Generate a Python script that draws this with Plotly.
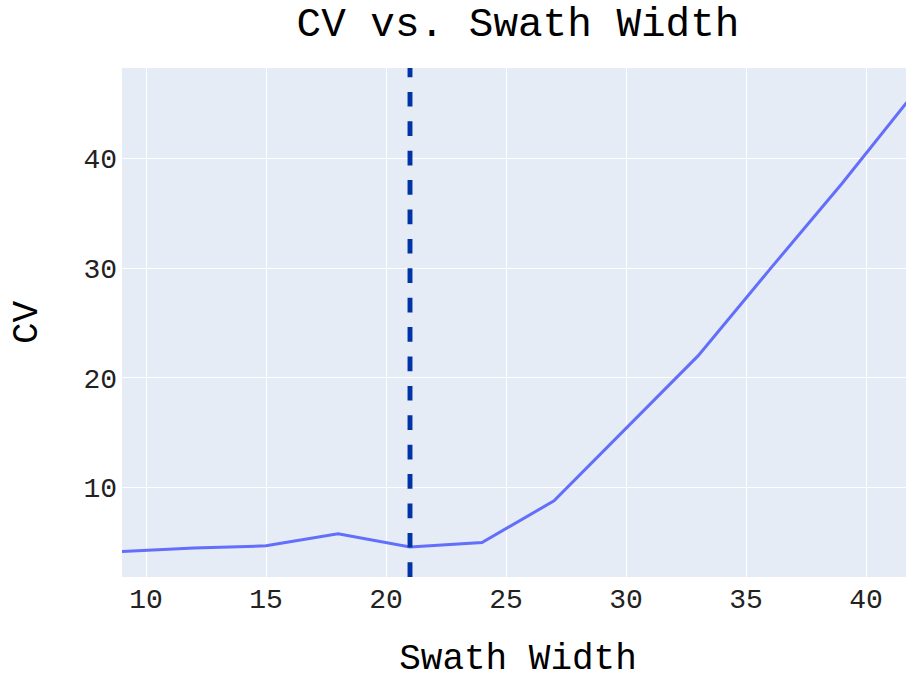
import plotly.graph_objects as go

swath_width = [9, 12, 15, 18, 21, 24, 27, 30, 33, 36, 39, 42]
cv_values = [4.18, 4.5, 4.7, 5.8, 4.6, 5.0, 8.8, 15.4, 22.0, 29.9, 37.7, 45.9]
selected_width = 21

FONT = "Courier New, Courier, Nimbus Mono PS, Liberation Mono, monospace"

fig = go.Figure()
fig.add_trace(go.Scatter(x=swath_width, y=cv_values, mode="lines",
                         line=dict(color="#636efa", width=3)))
fig.add_vline(x=selected_width, line_dash="dash", line_color="#0033a6", line_width=4.9)

fig.update_layout(
    template="plotly",
    width=914, height=680,
    font=dict(family=FONT, size=28, color="#222"),
    title=dict(text="CV vs. Swath Width", x=0.5, xanchor="center", xref="paper",
               y=1 - 22 / 680, yanchor="middle", yref="container",
               font=dict(family=FONT, size=41, color="#000")),
    margin=dict(l=122, r=0, t=68, b=103),
    showlegend=False,
    xaxis=dict(title=dict(text="Swath Width", standoff=37,
                          font=dict(size=36, color="#000")),
               tickvals=[10, 15, 20, 25, 30, 35, 40], ticklabelstandoff=2,
               automargin=False),
    yaxis=dict(title=dict(text="CV", standoff=34,
                          font=dict(size=36, color="#000")),
               tickvals=[10, 20, 30, 40], zeroline=False, ticklabelstandoff=4,
               automargin=False),
)

fig.write_html(
    "out.html",
    config={"displayModeBar": False},
    post_script="document.body.style.margin='0';document.body.style.overflow='hidden';",
)
